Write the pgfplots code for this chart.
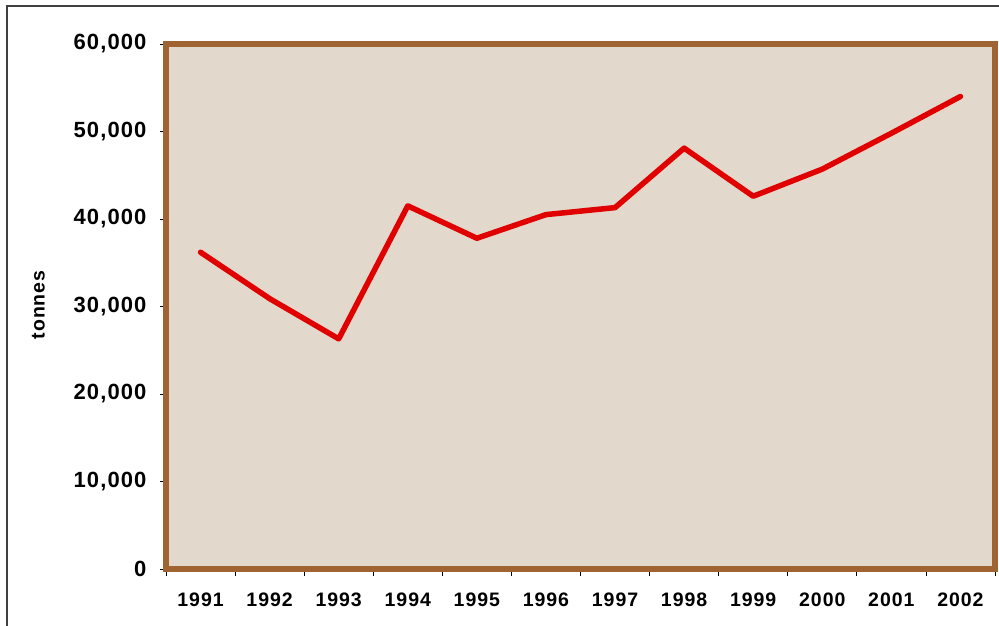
\documentclass[border=0pt]{standalone}
\usepackage{pgfplots}
\pgfplotsset{compat=1.18}
\usepackage{fontspec}
\setmainfont{Liberation Sans}[LetterSpace=5]
\definecolor{frameb}{HTML}{A06432}
\definecolor{bgfill}{HTML}{E2D8CB}
\definecolor{linered}{HTML}{E00000}
\definecolor{outer}{HTML}{404040}
\begin{document}
\begin{tikzpicture}[x=1pt,y=1pt]
\useasboundingbox (0,0) rectangle (999,626);
\draw[outer, line width=2pt] (7,-5) -- (7,620) -- (1005,620);
\begin{axis}[
  at={(166pt,57pt)}, anchor=south west,
  scale only axis, width=829pt, height=525pt,
  xmin=0.5, xmax=12.5, ymin=0, ymax=60000,
  axis background/.style={fill=bgfill},
  axis line style={frameb, line width=5.5pt},
  xtick={1,...,12},
  xticklabels={1991,1992,1993,1994,1995,1996,1997,1998,1999,2000,2001,2002},
  major x tick style={draw=none},
  minor xtick={0.5,1.5,...,12.5},
  minor x tick style={black, line width=0.8pt},
  minor tick length=7pt,
  ytick={0,10000,...,60000},
  y tick style={black, line width=0.8pt},
  major tick length=6pt,
  tick align=outside,
  xtick pos=bottom, ytick pos=left,
  scaled y ticks=false,
  /pgf/number format/.cd, 1000 sep={,}, assume math mode=true, /pgfplots/.cd,
  xticklabel style={font=\fontsize{19.5}{22}\selectfont\bfseries, yshift=-14pt},
  yticklabel style={font=\fontsize{22}{24}\selectfont\bfseries, xshift=-10pt},
  ylabel={tonnes},
  ylabel style={font=\fontsize{19.5}{22}\selectfont\bfseries, at={(axis description cs:-0.154,0.503)}, rotate=0, anchor=center},
  clip=false,
]
\addplot[linered, line width=5.5pt, line join=round, line cap=round] coordinates {
(1,36200) (2,30900) (3,26300) (4,41500) (5,37800) (6,40500)
(7,41300) (8,48100) (9,42600) (10,45700) (11,49800) (12,54000)
};
\end{axis}
\end{tikzpicture}
\end{document}
